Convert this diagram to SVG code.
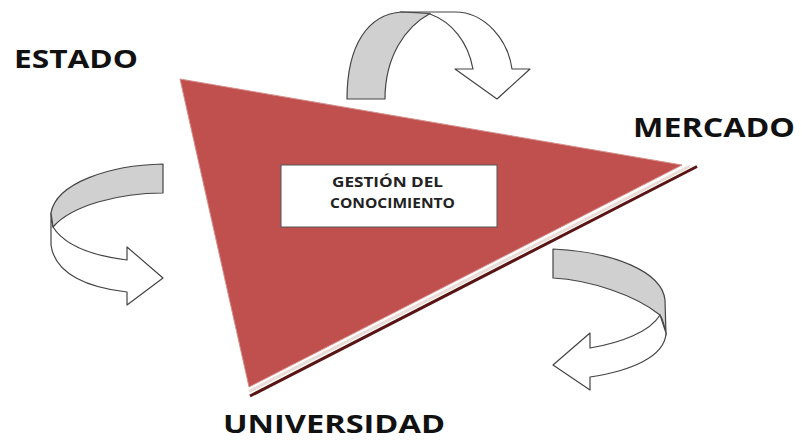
<svg xmlns="http://www.w3.org/2000/svg" width="801" height="441" viewBox="0 0 801 441">
  <style>
    .lbl { font-family: "Open Sans", "Liberation Sans", sans-serif; font-weight: bold; fill: #111; }
    .box { font-family: "Open Sans", "Liberation Sans", sans-serif; font-weight: bold; font-size: 15px; fill: #222; }
    .band { fill: #d0d0d0; stroke: #444; stroke-width: 1.2; stroke-linejoin: round; }
    .face { fill: #ffffff; stroke: #444; stroke-width: 1.2; stroke-linejoin: round; }
  </style>
  <rect width="801" height="441" fill="#ffffff"/>

  <g id="triangle">
    <line x1="697" y1="166.5" x2="250" y2="396" stroke="#5a1414" stroke-width="3"/>
    <line x1="690" y1="166" x2="249" y2="391.5" stroke="#eadcd6" stroke-width="3"/>
    <polygon points="180,79 682,165 249,387" fill="#c0504d" stroke="#d7918d" stroke-width="1"/>
  </g>

  <g id="gestion">
    <rect x="281" y="165" width="216" height="62" fill="#ffffff" stroke="#555" stroke-width="1"/>
    <text class="box" x="332" y="187" textLength="111" lengthAdjust="spacingAndGlyphs">GESTIÓN DEL</text>
    <text class="box" x="330" y="207.5" textLength="125" lengthAdjust="spacingAndGlyphs">CONOCIMIENTO</text>
  </g>

  <g id="estado">
    <text class="lbl" x="14" y="68" font-size="25" textLength="124" lengthAdjust="spacingAndGlyphs">ESTADO</text>
  </g>
  <g id="mercado">
    <text class="lbl" x="633" y="137" font-size="26" textLength="162" lengthAdjust="spacingAndGlyphs">MERCADO</text>
  </g>
  <g id="universidad">
    <text class="lbl" x="223" y="433" font-size="25" textLength="222" lengthAdjust="spacingAndGlyphs">UNIVERSIDAD</text>
  </g>

  <g id="connectors">
    <!-- top arrow -->
    <path class="face" d="M400,12 L455,12 C485,12 508,40 512,69 L530,69 L497,99 L455,69 L473,69 C468,42 452,22 430,14 Z"/>
    <path class="band" d="M347,99 C347,45 368,14 402,12 L430,13.5 C405,27 385,57 385,99 Z"/>
    <!-- left arrow -->
    <path class="face" d="M51,213 L51,245 C55,275 90,288 127,292 L127,305 L163,278 L127,247 L127,260 C95,256 65,246 53,227 Z"/>
    <path class="band" d="M163,164 C110,165 56,183 51,213 L53,227 C72,205 120,193 163,193 Z"/>
    <!-- right arrow -->
    <path class="band" d="M553,249 C615,252 662,272 665,300 L666,335 C664,322 662,318 660,315 C635,295 590,280 553,278 Z"/>
    <path class="face" d="M660,315 C650,332 620,343 590,348 L590,333 L553,365 L590,390 L590,377 C630,371 665,357 666,333 Z"/>
  </g>
</svg>
